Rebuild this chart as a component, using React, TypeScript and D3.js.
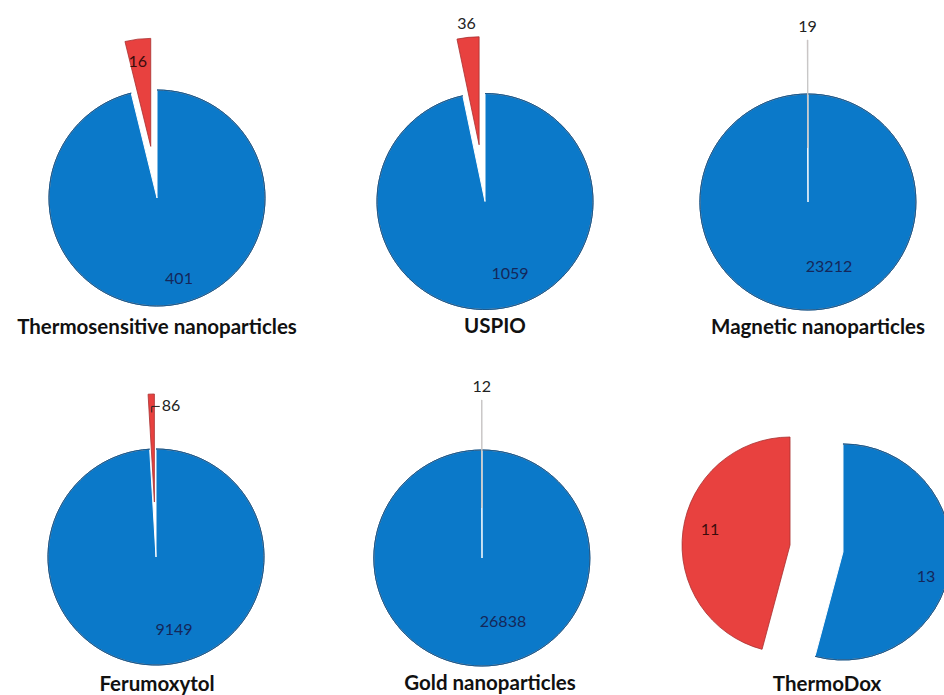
import React from "react";
import * as d3 from "d3";

// ---- data ----
const pieNames = [
  "Thermosensitive nanoparticles",
  "USPIO",
  "Magnetic nanoparticles",
  "Ferumoxytol",
  "Gold nanoparticles",
  "ThermoDox",
];
const blueValues = [401, 1059, 23212, 9149, 26838, 13];
const redValues = [16, 36, 19, 86, 12, 11];

// ---- layout (positions only) ----
const W = 944;
const H = 695;
const R = 108;
const centers: [number, number][] = [
  [157, 198],
  [485, 201.5],
  [808, 202],
  [156, 557],
  [482, 558],
  [816.5, 548.5],
];
const redExplode = [52, 57, 54, 55, 50, 26.7];
const blueExplode = [0, 0, 0, 0, 0, 26.7];
const blueLabelOffset: [number, number][] = [
  [22, 79],
  [25, 70.5],
  [21, 63],
  [18, 71],
  [21, 62],
  [83, 24],
];
const redLabelMode = ["inside", "outside", "outside", "leader", "outside", "inside"];
const redInsideOffset: [number, number][] = [
  [-13, -86],
  [0, 0],
  [0, 0],
  [0, 0],
  [0, 0],
  [-80, -17],
];
const titlePos: [number, number][] = [
  [157, 334],
  [495, 333],
  [818, 334],
  [157, 691],
  [490, 690],
  [827, 691],
];

const BLUE = "#0b79c9";
const RED = "#e8413f";
const FONT = "Lato, 'Open Sans', sans-serif";

function polar(a: number, r: number): [number, number] {
  return [Math.sin(a) * r, -Math.cos(a) * r];
}

function Pie({ i }: { i: number }) {
  const data = [
    { key: "blue", value: blueValues[i] },
    { key: "red", value: redValues[i] },
  ];
  const arcs = d3
    .pie<{ key: string; value: number }>()
    .sort(null)
    .value((d) => d.value)
    .startAngle(0)
    .endAngle(2 * Math.PI)(data);
  const arcGen = d3.arc<any>().innerRadius(0).outerRadius(R);
  const outerGen = d3.arc<any>().innerRadius(R).outerRadius(R);
  const [cx, cy] = centers[i];

  const blue = arcs[0];
  const red = arcs[1];
  const bMid = (blue.startAngle + blue.endAngle) / 2;
  const rMid = (red.startAngle + red.endAngle) / 2;
  const [bdx, bdy] = polar(bMid, blueExplode[i]);
  const [rdx, rdy] = polar(rMid, redExplode[i]);
  const redTiny = red.endAngle - red.startAngle < (1 * Math.PI) / 180;

  const bx = cx + bdx, by = cy + bdy;
  const rx = cx + rdx, ry = cy + rdy;

  let redLabel: React.ReactNode = null;
  const mode = redLabelMode[i];
  if (mode === "inside") {
    const [ox, oy] = redInsideOffset[i];
    redLabel = (
      <text x={rx + ox} y={ry + oy} textAnchor="middle" dominantBaseline="central"
        fontFamily={FONT} fontSize={16} fill="#3a0c0c">
        {redValues[i]}
      </text>
    );
  } else if (mode === "outside") {
    const [lx, ly] = polar(rMid, R + 15);
    redLabel = (
      <text x={rx + lx} y={ry + ly} textAnchor="middle" dominantBaseline="central"
        fontFamily={FONT} fontSize={16} fill="#222">
        {redValues[i]}
      </text>
    );
  } else if (mode === "leader") {
    const [sx, sy] = polar(rMid, R * 0.83);
    const x0 = rx + sx, y0 = ry + sy;
    redLabel = (
      <g>
        <path d={`M${x0},${y0} L${x0},${y0 - 6} L${x0 + 8},${y0 - 6}`} fill="none" stroke="#222" strokeWidth={1} />
        <text x={x0 + 10} y={y0 - 8} textAnchor="start" dominantBaseline="central"
          fontFamily={FONT} fontSize={16} fill="#222">
          {redValues[i]}
        </text>
      </g>
    );
  }

  const [bl, bt] = blueLabelOffset[i];
  const [tx, ty] = titlePos[i];

  return (
    <g>
      <g transform={`translate(${bx},${by})`}>
        <path d={arcGen(blue) || ""} fill={BLUE} stroke="#ffffff" strokeWidth={1} />
        <path d={outerGen(blue) || ""} fill="none" stroke="#1f5a8c" strokeWidth={1} />
      </g>
      <g transform={`translate(${rx},${ry})`}>
        <path d={arcGen(red) || ""} fill={RED} stroke={redTiny ? "#c8c8c8" : "#a83030"} strokeWidth={redTiny ? 1 : 0.8} />
      </g>
      <text x={bx + bl} y={by + bt} textAnchor="middle" dominantBaseline="central"
        fontFamily={FONT} fontSize={16} fill="#14275a">
        {blueValues[i]}
      </text>
      {redLabel}
      <text x={tx} y={ty} textAnchor="middle" fontFamily={FONT}
        fontWeight={700} fontSize={20.5} fill="#111">
        {pieNames[i]}
      </text>
    </g>
  );
}

export default function App() {
  return (
    <svg width={W} height={H} viewBox={`0 0 ${W} ${H}`}
      style={{ position: "fixed", left: 0, top: 0, background: "#fff" }}>
      <rect x={0} y={0} width={W} height={H} fill="#fff" />
      {pieNames.map((_, i) => (
        <Pie key={i} i={i} />
      ))}
    </svg>
  );
}
